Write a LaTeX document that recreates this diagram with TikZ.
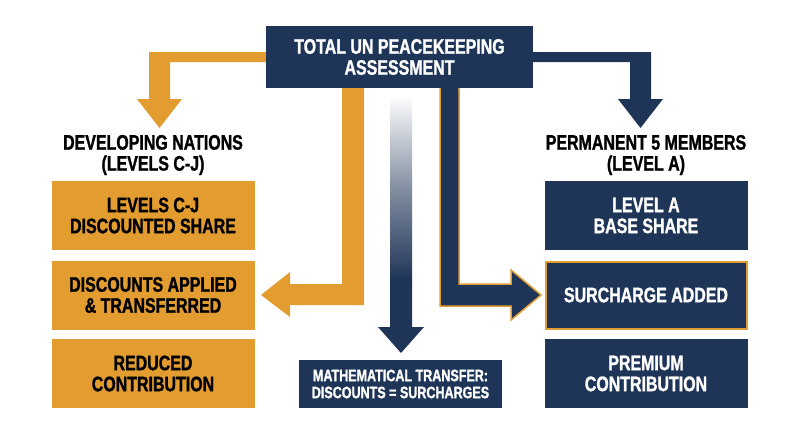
\documentclass[tikz,border=0pt]{standalone}
\usepackage{fontspec}
\setmainfont{Liberation Sans}[FakeStretch=0.76,FakeBold=1.2]
\definecolor{navy}{HTML}{1F3557}
\definecolor{gold}{HTML}{E39C2F}
\begin{document}
\begin{tikzpicture}[x=1pt,y=-1pt,
  box/.style={rectangle,minimum width=203pt,minimum height=69pt,inner sep=0pt,align=center,font=\bfseries\fontsize{21}{21}\selectfont},
  gbox/.style={box,fill=gold,text=black},
  nbox/.style={box,fill=navy,text=white},
  head/.style={align=center,font=\bfseries\fontsize{21}{21}\selectfont,text=black}]
\useasboundingbox (0,0) rectangle (800,447);
% top arrows
\fill[gold] (266,52) -- (149,52) -- (149,99) -- (137,99) -- (159.5,128) -- (182,99) -- (170,99) -- (170,62) -- (266,62) -- cycle;
\fill[navy] (533,52) -- (651,52) -- (651,99) -- (663,99) -- (640.5,128) -- (618,99) -- (630,99) -- (630,62) -- (533,62) -- cycle;
% orange L
\fill[gold] (342,88) -- (364,88) -- (364,305) -- (290,305) -- (290,317) -- (261,295) -- (290,272) -- (290,284) -- (342,284) -- cycle;
% navy L with gold outline
\filldraw[navy,draw=gold,line width=1.5pt] (440,88) -- (459,88) -- (459,284) -- (511,284) -- (511,270) -- (541,295) -- (511,320) -- (511,306) -- (440,306) -- cycle;
\fill[navy] (441,86) rectangle (458,92);
% centre gradient arrow
\shade[top color=white,bottom color=navy,middle color=navy!55] (390,95) rectangle (412,280);
\fill[navy] (390,279) -- (412,279) -- (412,327) -- (424,327) -- (401,353) -- (378,327) -- (390,327) -- cycle;
% top box
\node[nbox,minimum width=267pt,minimum height=62pt] (top) at (399.5,57) {TOTAL UN PEACEKEEPING\\ASSESSMENT};
% headings
\node[head] (hl) at (153,155) {DEVELOPING NATIONS\\(LEVELS C-J)};
\node[head] (hr) at (646,155) {PERMANENT 5 MEMBERS\\(LEVEL A)};
% left
\node[gbox] (l1) at (153,215.5) {LEVELS C-J\\DISCOUNTED SHARE};
\node[gbox] (l2) at (153,295) {DISCOUNTS APPLIED\\\& TRANSFERRED};
\node[gbox] (l3) at (153,373.5) {REDUCED\\CONTRIBUTION};
% right
\node[nbox] (r1) at (646,215.5) {LEVEL A\\BASE SHARE};
\node[nbox,draw=gold,line width=2pt,minimum width=201pt,minimum height=67pt] (r2) at (646,295) {SURCHARGE ADDED};
\node[nbox] (r3) at (646,373.5) {PREMIUM\\CONTRIBUTION};
% bottom
\node[nbox,minimum width=203pt,minimum height=48pt,font=\bfseries\fontsize{16.5}{17}\selectfont] (bot) at (400.5,384) {MATHEMATICAL TRANSFER:\\DISCOUNTS = SURCHARGES};
\end{tikzpicture}
\end{document}
